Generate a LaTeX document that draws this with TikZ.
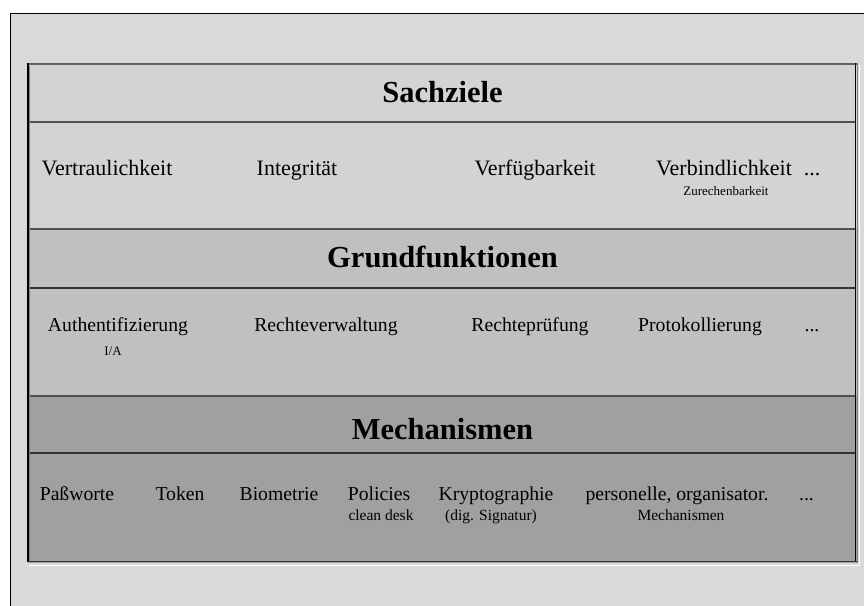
\documentclass[tikz,border=0pt]{standalone}
\usepackage{fontspec}
\setmainfont{Liberation Serif}
\definecolor{pagegray}{HTML}{D9D9D9}
\definecolor{bandA}{HTML}{D3D3D3}
\definecolor{bandB}{HTML}{C0C0C0}
\definecolor{bandC}{HTML}{A0A0A0}
\definecolor{rulegray}{HTML}{505050}
\definecolor{edgegray}{HTML}{606060}
\begin{document}
\begin{tikzpicture}[x=1pt,y=-1pt,
  title/.style={font=\bfseries\fontsize{30.5}{36}\selectfont, anchor=base, inner sep=0pt},
  itemA/.style={font=\fontsize{22}{26}\selectfont, anchor=base, inner sep=0pt},
  itemB/.style={font=\fontsize{19.7}{24}\selectfont, anchor=base, inner sep=0pt},
  noteA/.style={font=\fontsize{13}{16}\selectfont, anchor=base, inner sep=0pt},
  noteB/.style={font=\fontsize{15.5}{18}\selectfont, anchor=base, inner sep=0pt},
  divider/.style={draw=rulegray, line width=2pt}]
\useasboundingbox (0,0) rectangle (864,605);
\fill[white] (0,0) rectangle (864,605);
% page frame
\fill[pagegray] (10,13) rectangle (870,612);
\draw[black, line width=1pt] (10,612) -- (10,13) -- (870,13);
% the three layers
\fill[bandA] (28,63) rectangle (857,229);
\fill[bandB] (28,229) rectangle (857,396);
\fill[bandC] (28,396) rectangle (857,563);
% separators
\draw[divider] (29,122) -- (855,122);
\draw[divider] (29,229) -- (855,229);
\draw[divider, draw=black!80] (29,288) -- (855,288);
\draw[divider, line width=2.5pt] (29,396) -- (855,396);
\draw[divider, draw=black!80, line width=1.5pt] (29,453) -- (855,453);
% box edges
\draw[edgegray, line width=2pt] (28,64) -- (857,64);
\draw[black, line width=1.5pt] (28,63) -- (28,562);
\draw[gray, line width=0.8pt] (29.8,66) -- (29.8,561);
\draw[black, line width=1.5pt] (855.5,63) -- (855.5,562);
\draw[gray, line width=0.8pt] (857.4,63) -- (857.4,563);
\draw[black!80, line width=1.5pt] (28,561.5) -- (857,561.5);
\draw[white, line width=1pt] (859.5,65) -- (859.5,565) -- (29,565);
% Sachziele
\node[title] (sach) at (442.5,102) {Sachziele};
\node[itemA] (vertr) at (107,175) {Vertraulichkeit};
\node[itemA] (integ) at (297,175) {Integrität};
\node[itemA] (verfueg) at (535,175) {Verfügbarkeit};
\node[itemA] (verbind) at (724,175) {Verbindlichkeit};
\node[itemA] (moreA) at (812,175) {...};
\node[noteA] (zurech) at (726,195) {Zurechenbarkeit};
% Grundfunktionen
\node[title] (grund) at (442.5,267) {Grundfunktionen};
\node[itemB] (auth) at (118,331) {Authentifizierung};
\node[itemB] (rverw) at (326,331) {Rechteverwaltung};
\node[itemB] (rpruef) at (530,331) {Rechteprüfung};
\node[itemB] (proto) at (700,331) {Protokollierung};
\node[itemB] (moreB) at (812,331) {...};
\node[noteA] (ia) at (113,355) {I/A};
% Mechanismen
\node[title] (mech) at (442.5,439) {Mechanismen};
\node[itemB] (pw) at (77,500) {Paßworte};
\node[itemB] (token) at (180,500) {Token};
\node[itemB] (bio) at (279,500) {Biometrie};
\node[itemB] (pol) at (379,500) {Policies};
\node[itemB] (krypto) at (496,500) {Kryptographie};
\node[itemB] (perso) at (677,500) {personelle, organisator.};
\node[itemB] (moreC) at (806.5,500) {...};
\node[noteB] (desk) at (381,520) {clean desk};
\node[noteB] (sig) at (491,520) {(dig. Signatur)};
\node[noteB] (mechnote) at (681,520) {Mechanismen};
\end{tikzpicture}
\end{document}
